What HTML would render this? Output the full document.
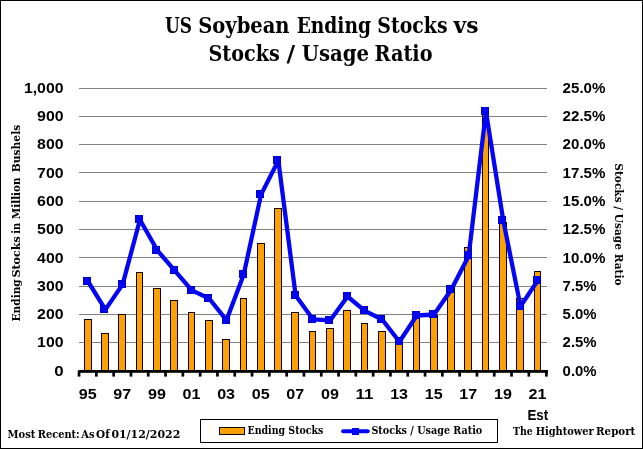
<!DOCTYPE html><html><head><meta charset="utf-8"><style>html,body{margin:0;padding:0;background:#fff;}svg{display:block;}</style></head><body>
<svg width="643" height="449" viewBox="0 0 643 449">
<rect x="0" y="0" width="643" height="449" fill="#fff"/>
<rect x="0.5" y="0.5" width="642" height="448" fill="none" stroke="#000" stroke-width="1"/>
<text y="32.8" font-family="'DejaVu Serif', serif" font-weight="bold" font-size="22"><tspan x="165.03" textLength="27.0" lengthAdjust="spacingAndGlyphs">US</tspan> <tspan x="198.21" textLength="91.37" lengthAdjust="spacingAndGlyphs">Soybean</tspan> <tspan x="296.65" textLength="74.3" lengthAdjust="spacingAndGlyphs">Ending</tspan> <tspan x="377.34" textLength="70.2" lengthAdjust="spacingAndGlyphs">Stocks</tspan> <tspan x="453.5" textLength="24.96" lengthAdjust="spacingAndGlyphs">vs</tspan></text>
<text y="61" font-family="'DejaVu Serif', serif" font-weight="bold" font-size="22"><tspan x="208.43" textLength="71.33" lengthAdjust="spacingAndGlyphs">Stocks</tspan> <tspan x="286.6" textLength="8.65" lengthAdjust="spacingAndGlyphs">/</tspan> <tspan x="301.7" textLength="67.39" lengthAdjust="spacingAndGlyphs">Usage</tspan> <tspan x="374.52" textLength="57.97" lengthAdjust="spacingAndGlyphs">Ratio</tspan></text>
<rect x="79" y="342" width="468" height="1" fill="#818181"/>
<rect x="79" y="314" width="468" height="1" fill="#818181"/>
<rect x="79" y="286" width="468" height="1" fill="#818181"/>
<rect x="79" y="257" width="468" height="1" fill="#818181"/>
<rect x="79" y="229" width="468" height="1" fill="#818181"/>
<rect x="79" y="201" width="468" height="1" fill="#818181"/>
<rect x="79" y="172" width="468" height="1" fill="#818181"/>
<rect x="79" y="144" width="468" height="1" fill="#818181"/>
<rect x="79" y="116" width="468" height="1" fill="#818181"/>
<rect x="79" y="88" width="468" height="1" fill="#818181"/>
<rect x="84.5" y="319.5" width="7" height="52" fill="#FBA005" stroke="#100000" stroke-width="1"/>
<rect x="101.5" y="333.5" width="7" height="38" fill="#FBA005" stroke="#100000" stroke-width="1"/>
<rect x="118.5" y="314.5" width="7" height="57" fill="#FBA005" stroke="#100000" stroke-width="1"/>
<rect x="136.5" y="272.5" width="6" height="99" fill="#FBA005" stroke="#100000" stroke-width="1"/>
<rect x="153.5" y="288.5" width="7" height="83" fill="#FBA005" stroke="#100000" stroke-width="1"/>
<rect x="170.5" y="300.5" width="7" height="71" fill="#FBA005" stroke="#100000" stroke-width="1"/>
<rect x="188.5" y="312.5" width="6" height="59" fill="#FBA005" stroke="#100000" stroke-width="1"/>
<rect x="205.5" y="320.5" width="7" height="51" fill="#FBA005" stroke="#100000" stroke-width="1"/>
<rect x="222.5" y="339.5" width="7" height="32" fill="#FBA005" stroke="#100000" stroke-width="1"/>
<rect x="240.5" y="298.5" width="6" height="73" fill="#FBA005" stroke="#100000" stroke-width="1"/>
<rect x="257.5" y="243.5" width="7" height="128" fill="#FBA005" stroke="#100000" stroke-width="1"/>
<rect x="274.5" y="208.5" width="7" height="163" fill="#FBA005" stroke="#100000" stroke-width="1"/>
<rect x="291.5" y="312.5" width="7" height="59" fill="#FBA005" stroke="#100000" stroke-width="1"/>
<rect x="309.5" y="331.5" width="6" height="40" fill="#FBA005" stroke="#100000" stroke-width="1"/>
<rect x="326.5" y="328.5" width="7" height="43" fill="#FBA005" stroke="#100000" stroke-width="1"/>
<rect x="343.5" y="310.5" width="7" height="61" fill="#FBA005" stroke="#100000" stroke-width="1"/>
<rect x="361.5" y="323.5" width="6" height="48" fill="#FBA005" stroke="#100000" stroke-width="1"/>
<rect x="378.5" y="331.5" width="7" height="40" fill="#FBA005" stroke="#100000" stroke-width="1"/>
<rect x="395.5" y="344.5" width="7" height="27" fill="#FBA005" stroke="#100000" stroke-width="1"/>
<rect x="413.5" y="316.5" width="6" height="55" fill="#FBA005" stroke="#100000" stroke-width="1"/>
<rect x="430.5" y="315.5" width="7" height="56" fill="#FBA005" stroke="#100000" stroke-width="1"/>
<rect x="447.5" y="285.5" width="7" height="86" fill="#FBA005" stroke="#100000" stroke-width="1"/>
<rect x="464.5" y="247.5" width="7" height="124" fill="#FBA005" stroke="#100000" stroke-width="1"/>
<rect x="482.5" y="114.5" width="6" height="257" fill="#FBA005" stroke="#100000" stroke-width="1"/>
<rect x="499.5" y="222.5" width="7" height="149" fill="#FBA005" stroke="#100000" stroke-width="1"/>
<rect x="516.5" y="298.5" width="7" height="73" fill="#FBA005" stroke="#100000" stroke-width="1"/>
<rect x="534.5" y="271.5" width="6" height="100" fill="#FBA005" stroke="#100000" stroke-width="1"/>
<rect x="78.3" y="370" width="469.7" height="2.8" fill="#000"/>
<rect x="77.70" y="371" width="2.7" height="5.6" fill="#000"/>
<rect x="95.00" y="371" width="2.7" height="5.6" fill="#000"/>
<rect x="112.30" y="371" width="2.7" height="5.6" fill="#000"/>
<rect x="129.60" y="371" width="2.7" height="5.6" fill="#000"/>
<rect x="146.90" y="371" width="2.7" height="5.6" fill="#000"/>
<rect x="164.20" y="371" width="2.7" height="5.6" fill="#000"/>
<rect x="181.50" y="371" width="2.7" height="5.6" fill="#000"/>
<rect x="198.80" y="371" width="2.7" height="5.6" fill="#000"/>
<rect x="216.10" y="371" width="2.7" height="5.6" fill="#000"/>
<rect x="233.40" y="371" width="2.7" height="5.6" fill="#000"/>
<rect x="250.70" y="371" width="2.7" height="5.6" fill="#000"/>
<rect x="268.00" y="371" width="2.7" height="5.6" fill="#000"/>
<rect x="285.30" y="371" width="2.7" height="5.6" fill="#000"/>
<rect x="302.60" y="371" width="2.7" height="5.6" fill="#000"/>
<rect x="319.90" y="371" width="2.7" height="5.6" fill="#000"/>
<rect x="337.20" y="371" width="2.7" height="5.6" fill="#000"/>
<rect x="354.50" y="371" width="2.7" height="5.6" fill="#000"/>
<rect x="371.80" y="371" width="2.7" height="5.6" fill="#000"/>
<rect x="389.10" y="371" width="2.7" height="5.6" fill="#000"/>
<rect x="406.40" y="371" width="2.7" height="5.6" fill="#000"/>
<rect x="423.70" y="371" width="2.7" height="5.6" fill="#000"/>
<rect x="441.00" y="371" width="2.7" height="5.6" fill="#000"/>
<rect x="458.30" y="371" width="2.7" height="5.6" fill="#000"/>
<rect x="475.60" y="371" width="2.7" height="5.6" fill="#000"/>
<rect x="492.90" y="371" width="2.7" height="5.6" fill="#000"/>
<rect x="510.20" y="371" width="2.7" height="5.6" fill="#000"/>
<rect x="527.50" y="371" width="2.7" height="5.6" fill="#000"/>
<rect x="545.05" y="371" width="2.7" height="5.6" fill="#000"/>
<polyline points="88.05,281.50 105.35,309.60 122.65,284.40 139.95,219.70 157.25,250.30 174.55,270.40 191.85,290.40 209.15,298.50 226.45,320.20 243.75,274.40 261.05,194.60 278.35,160.50 295.65,295.60 312.95,319.30 330.25,320.30 347.55,296.50 364.85,310.80 382.15,319.50 399.45,341.80 416.75,315.50 434.05,314.50 451.35,289.60 468.65,255.90 485.95,111.50 503.25,220.40 520.55,306.30 537.85,280.40" fill="none" stroke="#0505F5" stroke-width="4.3" stroke-linejoin="round" stroke-linecap="butt"/>
<rect x="83.5" y="277.5" width="7" height="7" fill="#0505F5" stroke="#0000CC" stroke-width="1"/>
<rect x="100.5" y="305.5" width="7" height="7" fill="#0505F5" stroke="#0000CC" stroke-width="1"/>
<rect x="118.5" y="280.5" width="7" height="7" fill="#0505F5" stroke="#0000CC" stroke-width="1"/>
<rect x="135.5" y="215.5" width="7" height="7" fill="#0505F5" stroke="#0000CC" stroke-width="1"/>
<rect x="152.5" y="246.5" width="7" height="7" fill="#0505F5" stroke="#0000CC" stroke-width="1"/>
<rect x="170.5" y="266.5" width="7" height="7" fill="#0505F5" stroke="#0000CC" stroke-width="1"/>
<rect x="187.5" y="286.5" width="7" height="7" fill="#0505F5" stroke="#0000CC" stroke-width="1"/>
<rect x="204.5" y="294.5" width="7" height="7" fill="#0505F5" stroke="#0000CC" stroke-width="1"/>
<rect x="222.5" y="316.5" width="7" height="7" fill="#0505F5" stroke="#0000CC" stroke-width="1"/>
<rect x="239.5" y="270.5" width="7" height="7" fill="#0505F5" stroke="#0000CC" stroke-width="1"/>
<rect x="256.5" y="190.5" width="7" height="7" fill="#0505F5" stroke="#0000CC" stroke-width="1"/>
<rect x="273.5" y="156.5" width="7" height="7" fill="#0505F5" stroke="#0000CC" stroke-width="1"/>
<rect x="291.5" y="291.5" width="7" height="7" fill="#0505F5" stroke="#0000CC" stroke-width="1"/>
<rect x="308.5" y="315.5" width="7" height="7" fill="#0505F5" stroke="#0000CC" stroke-width="1"/>
<rect x="325.5" y="316.5" width="7" height="7" fill="#0505F5" stroke="#0000CC" stroke-width="1"/>
<rect x="343.5" y="292.5" width="7" height="7" fill="#0505F5" stroke="#0000CC" stroke-width="1"/>
<rect x="360.5" y="306.5" width="7" height="7" fill="#0505F5" stroke="#0000CC" stroke-width="1"/>
<rect x="377.5" y="315.5" width="7" height="7" fill="#0505F5" stroke="#0000CC" stroke-width="1"/>
<rect x="395.5" y="337.5" width="7" height="7" fill="#0505F5" stroke="#0000CC" stroke-width="1"/>
<rect x="412.5" y="311.5" width="7" height="7" fill="#0505F5" stroke="#0000CC" stroke-width="1"/>
<rect x="429.5" y="310.5" width="7" height="7" fill="#0505F5" stroke="#0000CC" stroke-width="1"/>
<rect x="446.5" y="285.5" width="7" height="7" fill="#0505F5" stroke="#0000CC" stroke-width="1"/>
<rect x="464.5" y="251.5" width="7" height="7" fill="#0505F5" stroke="#0000CC" stroke-width="1"/>
<rect x="481.5" y="107.5" width="7" height="7" fill="#0505F5" stroke="#0000CC" stroke-width="1"/>
<rect x="498.5" y="216.5" width="7" height="7" fill="#0505F5" stroke="#0000CC" stroke-width="1"/>
<rect x="516.5" y="302.5" width="7" height="7" fill="#0505F5" stroke="#0000CC" stroke-width="1"/>
<rect x="533.5" y="276.5" width="7" height="7" fill="#0505F5" stroke="#0000CC" stroke-width="1"/>
<text x="63.6" y="375.70" font-family="'Liberation Sans', Arial, sans-serif" font-weight="bold" font-size="15.3" text-anchor="end" textLength="9.4" lengthAdjust="spacingAndGlyphs">0</text>
<text x="63.6" y="347.41" font-family="'Liberation Sans', Arial, sans-serif" font-weight="bold" font-size="15.3" text-anchor="end" textLength="26.5" lengthAdjust="spacingAndGlyphs">100</text>
<text x="63.6" y="319.12" font-family="'Liberation Sans', Arial, sans-serif" font-weight="bold" font-size="15.3" text-anchor="end" textLength="26.5" lengthAdjust="spacingAndGlyphs">200</text>
<text x="63.6" y="290.83" font-family="'Liberation Sans', Arial, sans-serif" font-weight="bold" font-size="15.3" text-anchor="end" textLength="26.5" lengthAdjust="spacingAndGlyphs">300</text>
<text x="63.6" y="262.54" font-family="'Liberation Sans', Arial, sans-serif" font-weight="bold" font-size="15.3" text-anchor="end" textLength="26.5" lengthAdjust="spacingAndGlyphs">400</text>
<text x="63.6" y="234.25" font-family="'Liberation Sans', Arial, sans-serif" font-weight="bold" font-size="15.3" text-anchor="end" textLength="26.5" lengthAdjust="spacingAndGlyphs">500</text>
<text x="63.6" y="205.96" font-family="'Liberation Sans', Arial, sans-serif" font-weight="bold" font-size="15.3" text-anchor="end" textLength="26.5" lengthAdjust="spacingAndGlyphs">600</text>
<text x="63.6" y="177.67" font-family="'Liberation Sans', Arial, sans-serif" font-weight="bold" font-size="15.3" text-anchor="end" textLength="26.5" lengthAdjust="spacingAndGlyphs">700</text>
<text x="63.6" y="149.38" font-family="'Liberation Sans', Arial, sans-serif" font-weight="bold" font-size="15.3" text-anchor="end" textLength="26.5" lengthAdjust="spacingAndGlyphs">800</text>
<text x="63.6" y="121.09" font-family="'Liberation Sans', Arial, sans-serif" font-weight="bold" font-size="15.3" text-anchor="end" textLength="26.5" lengthAdjust="spacingAndGlyphs">900</text>
<text x="63.6" y="92.80" font-family="'Liberation Sans', Arial, sans-serif" font-weight="bold" font-size="15.3" text-anchor="end" textLength="39.7" lengthAdjust="spacingAndGlyphs">1,000</text>
<text x="562.6" y="375.70" font-family="'Liberation Sans', Arial, sans-serif" font-weight="bold" font-size="15.3" textLength="34.0" lengthAdjust="spacingAndGlyphs">0.0%</text>
<text x="562.6" y="347.41" font-family="'Liberation Sans', Arial, sans-serif" font-weight="bold" font-size="15.3" textLength="34.0" lengthAdjust="spacingAndGlyphs">2.5%</text>
<text x="562.6" y="319.12" font-family="'Liberation Sans', Arial, sans-serif" font-weight="bold" font-size="15.3" textLength="34.0" lengthAdjust="spacingAndGlyphs">5.0%</text>
<text x="562.6" y="290.83" font-family="'Liberation Sans', Arial, sans-serif" font-weight="bold" font-size="15.3" textLength="34.0" lengthAdjust="spacingAndGlyphs">7.5%</text>
<text x="562.6" y="262.54" font-family="'Liberation Sans', Arial, sans-serif" font-weight="bold" font-size="15.3" textLength="42.8" lengthAdjust="spacingAndGlyphs">10.0%</text>
<text x="562.6" y="234.25" font-family="'Liberation Sans', Arial, sans-serif" font-weight="bold" font-size="15.3" textLength="42.8" lengthAdjust="spacingAndGlyphs">12.5%</text>
<text x="562.6" y="205.96" font-family="'Liberation Sans', Arial, sans-serif" font-weight="bold" font-size="15.3" textLength="42.8" lengthAdjust="spacingAndGlyphs">15.0%</text>
<text x="562.6" y="177.67" font-family="'Liberation Sans', Arial, sans-serif" font-weight="bold" font-size="15.3" textLength="42.8" lengthAdjust="spacingAndGlyphs">17.5%</text>
<text x="562.6" y="149.38" font-family="'Liberation Sans', Arial, sans-serif" font-weight="bold" font-size="15.3" textLength="42.8" lengthAdjust="spacingAndGlyphs">20.0%</text>
<text x="562.6" y="121.09" font-family="'Liberation Sans', Arial, sans-serif" font-weight="bold" font-size="15.3" textLength="42.8" lengthAdjust="spacingAndGlyphs">22.5%</text>
<text x="562.6" y="92.80" font-family="'Liberation Sans', Arial, sans-serif" font-weight="bold" font-size="15.3" textLength="42.8" lengthAdjust="spacingAndGlyphs">25.0%</text>
<text x="87.70" y="398.7" font-family="'Liberation Sans', Arial, sans-serif" font-weight="bold" font-size="15.3" text-anchor="middle" textLength="17.9" lengthAdjust="spacingAndGlyphs">95</text>
<text x="122.30" y="398.7" font-family="'Liberation Sans', Arial, sans-serif" font-weight="bold" font-size="15.3" text-anchor="middle" textLength="17.9" lengthAdjust="spacingAndGlyphs">97</text>
<text x="156.90" y="398.7" font-family="'Liberation Sans', Arial, sans-serif" font-weight="bold" font-size="15.3" text-anchor="middle" textLength="17.9" lengthAdjust="spacingAndGlyphs">99</text>
<text x="191.50" y="398.7" font-family="'Liberation Sans', Arial, sans-serif" font-weight="bold" font-size="15.3" text-anchor="middle" textLength="17.9" lengthAdjust="spacingAndGlyphs">01</text>
<text x="226.10" y="398.7" font-family="'Liberation Sans', Arial, sans-serif" font-weight="bold" font-size="15.3" text-anchor="middle" textLength="17.9" lengthAdjust="spacingAndGlyphs">03</text>
<text x="260.70" y="398.7" font-family="'Liberation Sans', Arial, sans-serif" font-weight="bold" font-size="15.3" text-anchor="middle" textLength="17.9" lengthAdjust="spacingAndGlyphs">05</text>
<text x="295.30" y="398.7" font-family="'Liberation Sans', Arial, sans-serif" font-weight="bold" font-size="15.3" text-anchor="middle" textLength="17.9" lengthAdjust="spacingAndGlyphs">07</text>
<text x="329.90" y="398.7" font-family="'Liberation Sans', Arial, sans-serif" font-weight="bold" font-size="15.3" text-anchor="middle" textLength="17.9" lengthAdjust="spacingAndGlyphs">09</text>
<text x="364.50" y="398.7" font-family="'Liberation Sans', Arial, sans-serif" font-weight="bold" font-size="15.3" text-anchor="middle" textLength="17.9" lengthAdjust="spacingAndGlyphs">11</text>
<text x="399.10" y="398.7" font-family="'Liberation Sans', Arial, sans-serif" font-weight="bold" font-size="15.3" text-anchor="middle" textLength="17.9" lengthAdjust="spacingAndGlyphs">13</text>
<text x="433.70" y="398.7" font-family="'Liberation Sans', Arial, sans-serif" font-weight="bold" font-size="15.3" text-anchor="middle" textLength="17.9" lengthAdjust="spacingAndGlyphs">15</text>
<text x="468.30" y="398.7" font-family="'Liberation Sans', Arial, sans-serif" font-weight="bold" font-size="15.3" text-anchor="middle" textLength="17.9" lengthAdjust="spacingAndGlyphs">17</text>
<text x="502.90" y="398.7" font-family="'Liberation Sans', Arial, sans-serif" font-weight="bold" font-size="15.3" text-anchor="middle" textLength="17.9" lengthAdjust="spacingAndGlyphs">19</text>
<text x="537.50" y="398.7" font-family="'Liberation Sans', Arial, sans-serif" font-weight="bold" font-size="15.3" text-anchor="middle" textLength="17.9" lengthAdjust="spacingAndGlyphs">21</text>
<text x="537.8" y="419.5" font-family="'Liberation Sans', Arial, sans-serif" font-weight="bold" font-size="15.3" text-anchor="middle" textLength="20.8" lengthAdjust="spacingAndGlyphs">Est</text>
<text transform="rotate(-90)" y="20.4" font-family="'DejaVu Serif', serif" font-weight="bold" font-size="11"><tspan x="-321.46" textLength="42.22" lengthAdjust="spacingAndGlyphs">Ending</tspan> <tspan x="-277.62" textLength="41.5" lengthAdjust="spacingAndGlyphs">Stocks</tspan> <tspan x="-233.8" textLength="10.87" lengthAdjust="spacingAndGlyphs">in</tspan> <tspan x="-219.14" textLength="41.56" lengthAdjust="spacingAndGlyphs">Million</tspan> <tspan x="-172.27" textLength="47.51" lengthAdjust="spacingAndGlyphs">Bushels</tspan></text>
<text transform="translate(615,224.4) rotate(90)" x="0" y="0" font-family="'DejaVu Serif', serif" font-weight="bold" font-size="11.5" text-anchor="middle" textLength="122.2" lengthAdjust="spacingAndGlyphs">Stocks / Usage Ratio</text>
<text y="438.3" font-family="'DejaVu Serif', serif" font-weight="bold" font-size="11"><tspan x="7.6" textLength="27.82" lengthAdjust="spacingAndGlyphs">Most</tspan> <tspan x="37.7" textLength="42.08" lengthAdjust="spacingAndGlyphs">Recent:</tspan> <tspan x="81.3" textLength="13.26" lengthAdjust="spacingAndGlyphs">As</tspan> <tspan x="96.05" textLength="13.61" lengthAdjust="spacingAndGlyphs">Of</tspan> <tspan x="111.41" textLength="68.85" lengthAdjust="spacingAndGlyphs">01/12/2022</tspan></text>
<text y="434.7" font-family="'DejaVu Serif', serif" font-weight="bold" font-size="11.5"><tspan x="512.9" textLength="19.8" lengthAdjust="spacingAndGlyphs">The</tspan> <tspan x="535.64" textLength="58.18" lengthAdjust="spacingAndGlyphs">Hightower</tspan> <tspan x="596.11" textLength="39.16" lengthAdjust="spacingAndGlyphs">Report</tspan></text>
<rect x="200.5" y="419.5" width="297" height="23" fill="#fff" stroke="#000" stroke-width="1"/>
<rect x="219.5" y="427.5" width="25" height="7" fill="#FBA005" stroke="#100000" stroke-width="1"/>
<text x="247.5" y="433.7" font-family="'DejaVu Serif', serif" font-weight="bold" font-size="11" textLength="75.8" lengthAdjust="spacingAndGlyphs">Ending Stocks</text>
<line x1="343.1" y1="431.2" x2="367.7" y2="431.2" stroke="#0505F5" stroke-width="4" stroke-linecap="round"/>
<rect x="352" y="428" width="7" height="7" fill="#0505F5"/>
<text x="371.4" y="433.7" font-family="'DejaVu Serif', serif" font-weight="bold" font-size="11" textLength="110.8" lengthAdjust="spacingAndGlyphs">Stocks / Usage Ratio</text>
</svg></body></html>
